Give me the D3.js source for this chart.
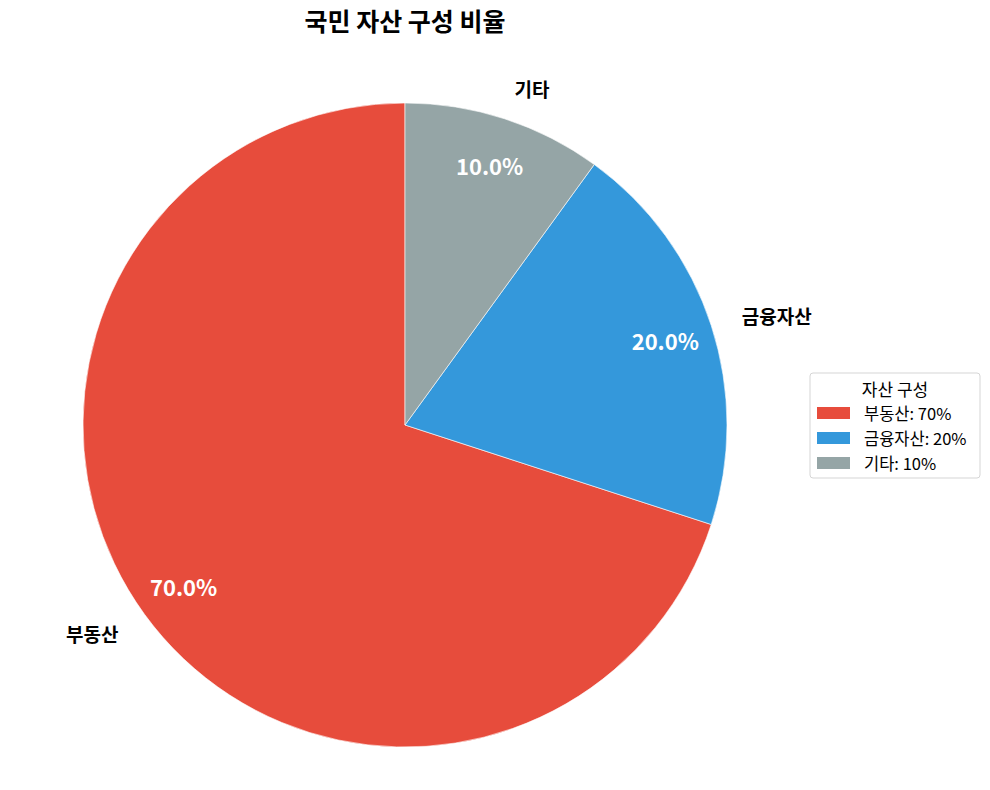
<!DOCTYPE html>
<html>
<head>
<meta charset="utf-8">
<script src="https://cdn.jsdelivr.net/npm/d3@7"></script>
<style>
  body { margin: 0; background: #fff; }
  svg { font-family: "Noto Sans CJK KR", "Noto Sans", sans-serif; }
</style>
</head>
<body>
<svg id="chart" width="990" height="790"></svg>
<script>
// data
const categories = ['부동산', '금융자산', '기타'];
const shares = [70, 20, 10];
const colors = ['#e74c3c', '#3498db', '#95a5a6'];
const legendTitle = '자산 구성';
const chartTitle = '국민 자산 구성 비율';

const width = 990, height = 790;
const cx = 405, cy = 425, radius = 322;

const svg = d3.select('#chart');

svg.append('text')
  .attr('x', cx).attr('y', 31)
  .attr('text-anchor', 'middle')
  .style('font-size', '25px')
  .style('font-weight', 'bold')
  .text(chartTitle);

// counter-clockwise from the top, like matplotlib startangle=90
const pie = d3.pie().sort(null).startAngle(0).endAngle(-2 * Math.PI);
const arcs = pie(shares);

const arc = d3.arc().innerRadius(0).outerRadius(radius);
const g = svg.append('g').attr('transform', `translate(${cx},${cy})`);

g.selectAll('path').data(arcs).enter()
  .append('path')
  .attr('d', arc)
  .attr('fill', (d, i) => colors[i])
  .attr('stroke', '#fff')
  .attr('stroke-width', 0.6);

const total = d3.sum(shares);
const at = (d, k) => {
  const a = (d.startAngle + d.endAngle) / 2;
  return [Math.sin(a) * radius * k, -Math.cos(a) * radius * k];
};

// percent labels
g.selectAll('text.pct').data(arcs).enter()
  .append('text')
  .attr('class', 'pct')
  .attr('x', d => at(d, 0.85)[0])
  .attr('y', d => at(d, 0.85)[1])
  .attr('text-anchor', 'middle')
  .attr('dominant-baseline', 'central')
  .style('fill', '#fff')
  .style('font-size', '22px')
  .style('font-weight', 'bold')
  .text(d => (d.value / total * 100).toFixed(1) + '%');

// category labels
g.selectAll('text.lbl').data(arcs).enter()
  .append('text')
  .attr('class', 'lbl')
  .attr('x', d => at(d, 1.1)[0])
  .attr('y', d => at(d, 1.1)[1])
  .attr('text-anchor', d => at(d, 1.1)[0] < 0 ? 'end' : 'start')
  .attr('dominant-baseline', 'central')
  .style('font-size', '19px')
  .style('font-weight', 'bold')
  .text((d, i) => categories[i]);

// legend
const lg = svg.append('g').attr('transform', 'translate(810,373)');
lg.append('rect')
  .attr('width', 170).attr('height', 105)
  .attr('rx', 3)
  .attr('fill', '#fff')
  .attr('stroke', '#d5d5d5');
lg.append('text')
  .attr('x', 85).attr('y', 15)
  .attr('text-anchor', 'middle')
  .attr('dominant-baseline', 'central')
  .style('font-size', '17px')
  .text(legendTitle);
const items = lg.selectAll('g.item').data(categories).enter()
  .append('g')
  .attr('class', 'item')
  .attr('transform', (d, i) => `translate(7,${40 + i * 25})`);
items.append('rect')
  .attr('width', 33).attr('height', 12)
  .attr('y', -6)
  .attr('fill', (d, i) => colors[i]);
items.append('text')
  .attr('x', 47)
  .attr('dominant-baseline', 'central')
  .style('font-size', '16.5px')
  .text((d, i) => `${d}: ${shares[i]}%`);
</script>
</body>
</html>
